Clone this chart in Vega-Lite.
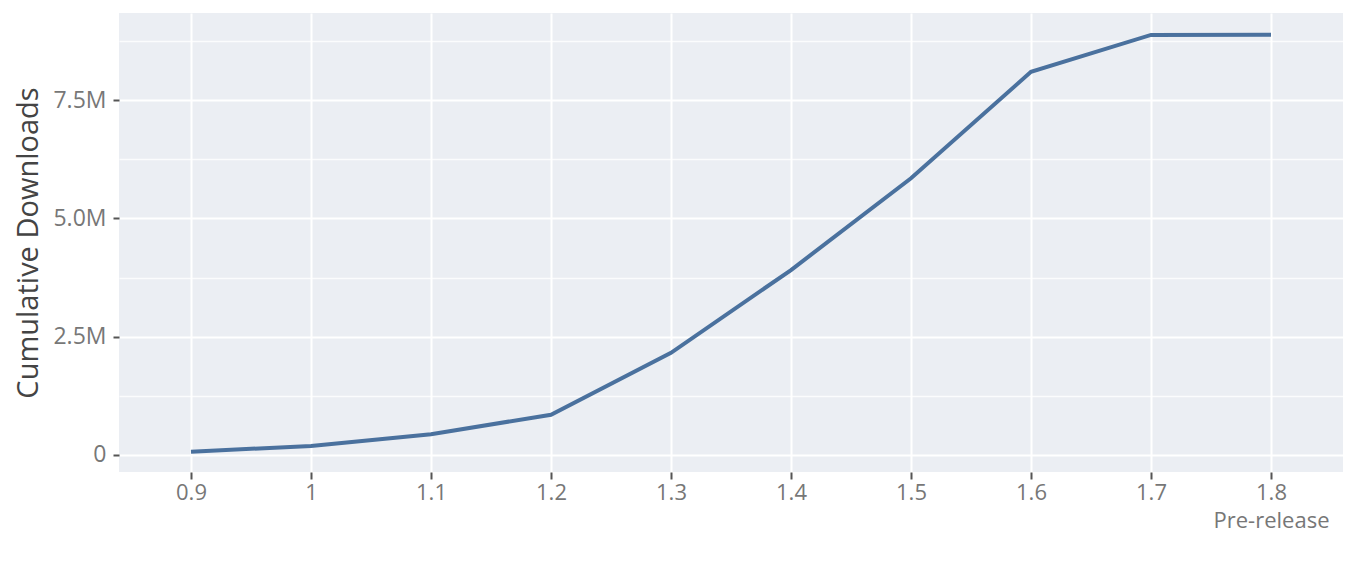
{
  "$schema": "https://vega.github.io/schema/vega-lite/v6.json",
  "autosize": "none",
  "width": 1224,
  "height": 459,
  "padding": {"left": 119, "top": 13, "right": 23, "bottom": 113},
  "background": "white",
  "config": {
    "font": "Open Sans",
    "view": {"fill": "#EBEEF3", "stroke": null}
  },
  "data": {
    "values": [
      {"version": "0.9", "downloads": 70000},
      {"version": "1", "downloads": 190000},
      {"version": "1.1", "downloads": 440000},
      {"version": "1.2", "downloads": 850000},
      {"version": "1.3", "downloads": 2160000},
      {"version": "1.4", "downloads": 3910000},
      {"version": "1.5", "downloads": 5850000},
      {"version": "1.6", "downloads": 8100000},
      {"version": "1.7", "downloads": 8880000},
      {"version": "1.8", "downloads": 8885000}
    ]
  },
  "mark": {"type": "line", "color": "#4A719E", "strokeWidth": 4},
  "encoding": {
    "x": {
      "field": "version",
      "type": "ordinal",
      "sort": null,
      "scale": {"type": "point", "padding": 0.6},
      "axis": {
        "title": null,
        "domain": false,
        "labelAngle": 0,
        "labelFontSize": 22,
        "labelColor": "#777777",
        "labelPadding": 3,
        "labelLineHeight": 28,
        "labelExpr": "datum.value == '1.8' ? ['1.8', 'Pre-release'] : datum.label",
        "tickColor": "#555555",
        "tickWidth": 2,
        "tickSize": 7,
        "grid": true,
        "gridColor": "white",
        "gridWidth": 2
      }
    },
    "y": {
      "field": "downloads",
      "type": "quantitative",
      "scale": {"domain": [-360000, 9344000], "nice": false, "zero": false},
      "axis": {
        "title": "Cumulative Downloads",
        "titleFontSize": 29,
        "titleFontWeight": "normal",
        "titleColor": "#444444",
        "titlePadding": 9,
        "domain": false,
        "values": [0, 1250000, 2500000, 3750000, 5000000, 6250000, 7500000, 8750000],
        "labelExpr": "datum.value == 0 ? '0' : (datum.value % 2500000 == 0 ? format(datum.value / 1000000, '.1f') + 'M' : '')",
        "labelFontSize": 23,
        "labelColor": "#777777",
        "labelPadding": 7,
        "tickColor": "#555555",
        "tickWidth": 2,
        "tickSize": 6,
        "tickOpacity": {"condition": {"test": "datum.value % 2500000 == 0", "value": 1}, "value": 0},
        "grid": true,
        "gridColor": "white",
        "gridWidth": {"condition": {"test": "datum.value % 2500000 == 0", "value": 2}, "value": 1.3},
        "gridOpacity": {"condition": {"test": "datum.value % 2500000 == 0", "value": 1}, "value": 0.8}
      }
    }
  }
}
